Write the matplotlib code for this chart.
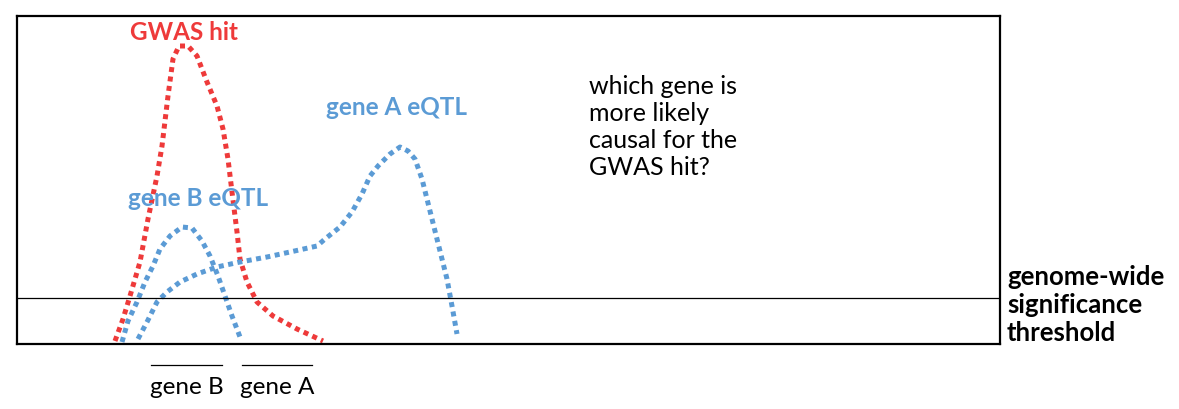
import matplotlib.pyplot as plt

# signal height above the bottom of the box, against genomic position
gwas_x = [98, 106, 113, 123, 131, 140, 145, 151, 156, 162, 171, 180, 190, 200, 206,
          211, 215, 220, 223, 230, 240, 256, 280, 306]
gwas_y = [3, 25, 48, 82, 125, 168, 198, 248, 285, 298, 298, 288, 262, 238, 215,
          185, 152, 112, 85, 62, 42, 28, 15, 3]

geneB_x = [105, 111, 120, 128, 136, 143, 153, 165, 175, 185, 193, 201, 208, 215, 223]
geneB_y = [2, 23, 42, 62, 78, 95, 108, 117, 116, 103, 88, 68, 48, 28, 7]

geneA_x = [121, 130, 140, 150, 163, 180, 200, 223, 250, 273, 300, 308, 323, 335,
           345, 353, 361, 373, 383, 391, 398, 405, 410, 415, 420, 425, 430, 435, 440]
geneA_y = [5, 22, 42, 52, 62, 70, 77, 82, 87, 92, 98, 105, 117, 132, 150, 168,
           178, 190, 197, 193, 185, 165, 145, 125, 105, 85, 65, 38, 10]

threshold = 46
gene_B_span = [134, 205]
gene_A_span = [225, 295]

red = '#EE3A3A'
blue = '#5B9BD5'
font = ['Lato', 'DejaVu Sans']

fig = plt.figure(figsize=(11.79, 4.10), dpi=100)
ax = fig.add_axes([17 / 1179, 65 / 410, 983 / 1179, 328 / 410])
ax.set_xlim(0, 983)
ax.set_ylim(0, 328)
ax.set_xticks([])
ax.set_yticks([])
for s in ax.spines.values():
    s.set_linewidth(1.6)

dots = (0, (1, 0.9))
ax.plot(gwas_x, gwas_y, color=red, lw=3.6, linestyle=dots, dash_capstyle='butt', clip_on=False)
ax.plot(geneB_x, geneB_y, color=blue, lw=3.6, linestyle=dots, dash_capstyle='butt', clip_on=False)
ax.plot(geneA_x, geneA_y, color=blue, lw=3.6, linestyle=dots, dash_capstyle='butt', clip_on=False)
ax.axhline(threshold, color='black', lw=0.9)

ax.text(113, 312, 'GWAS hit', color=red, fontsize=17.5, fontweight='bold', family=font, va='center')
ax.text(309, 237, 'gene A eQTL', color=blue, fontsize=17.5, fontweight='bold', family=font, va='center')
ax.text(111, 146, 'gene B eQTL', color=blue, fontsize=17.5, fontweight='bold', family=font, va='center')
ax.text(572, 270, 'which gene is\nmore likely\ncausal for the\nGWAS hit?', fontsize=18,
        family=font, va='top', linespacing=1.21)
ax.text(990, 80, 'genome-wide\nsignificance\nthreshold', fontsize=18.5, fontweight='bold',
        family=font, va='top', linespacing=1.2, clip_on=False)

# gene positions below the box
ax.plot(gene_B_span, [-21, -21], color='black', lw=0.9, clip_on=False)
ax.plot(gene_A_span, [-21, -21], color='black', lw=0.9, clip_on=False)
ax.text(sum(gene_B_span) / 2, -43, 'gene B', fontsize=17.5, family=font, ha='center', va='center')
ax.text(sum(gene_A_span) / 2, -43, 'gene A', fontsize=17.5, family=font, ha='center', va='center')

fig.savefig('out.png', dpi=100)
